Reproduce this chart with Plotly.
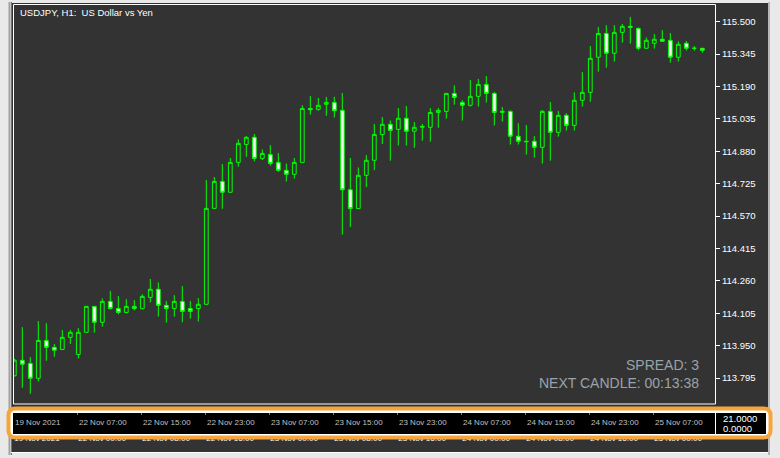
import plotly.graph_objects as go

W, H = 780, 458

# ---------------- data ----------------
bar_index = list(range(87))
open_ = [113.806, 113.880, 113.865, 113.794, 113.975, 113.942, 113.932, 113.990, 113.908, 114.014,
         114.138, 114.062, 114.162, 114.128, 114.109, 114.138, 114.127, 114.181, 114.220, 114.143,
         114.128, 114.162, 114.128, 114.128, 114.148, 114.607, 114.736, 114.684, 114.827, 114.913,
         114.947, 114.846, 114.865, 114.827, 114.789, 114.770, 114.827, 115.085, 115.081, 115.105,
         115.114, 115.076, 114.696, 114.606, 114.765, 114.837, 114.960, 115.009, 114.985, 115.038,
         114.976, 114.995, 114.995, 115.066, 115.071, 115.157, 115.114, 115.100, 115.143, 115.200,
         115.157, 115.066, 115.071, 114.952, 114.928, 114.928, 114.899, 115.071, 114.971, 115.052,
         115.004, 115.124, 115.162, 115.330, 115.444, 115.349, 115.449, 115.478, 115.468, 115.373,
         115.397, 115.416, 115.411, 115.330, 115.397, 115.373, 115.373]
high = [113.888, 114.039, 113.896, 114.068, 114.058, 113.958, 114.025, 114.025, 114.034, 114.138,
        114.138, 114.176, 114.212, 114.188, 114.173, 114.168, 114.196, 114.269, 114.253, 114.164,
        114.192, 114.235, 114.164, 114.178, 114.743, 114.757, 114.819, 114.848, 114.937, 114.953,
        114.963, 114.889, 114.910, 114.872, 114.822, 114.848, 115.101, 115.144, 115.135, 115.140,
        115.141, 115.159, 114.848, 114.803, 114.862, 115.011, 115.044, 115.028, 115.087, 115.097,
        115.020, 115.011, 115.087, 115.087, 115.157, 115.196, 115.125, 115.221, 115.226, 115.240,
        115.164, 115.092, 115.076, 115.015, 115.006, 114.953, 115.078, 115.116, 115.073, 115.062,
        115.162, 115.259, 115.384, 115.475, 115.484, 115.484, 115.489, 115.523, 115.473, 115.425,
        115.441, 115.460, 115.446, 115.406, 115.408, 115.384, 115.373]
low = [113.802, 113.749, 113.720, 113.778, 113.878, 113.897, 113.932, 113.958, 113.889, 114.014,
       114.012, 114.041, 114.124, 114.100, 114.105, 114.119, 114.124, 114.157, 114.089, 114.060,
       114.089, 114.062, 114.079, 114.065, 114.148, 114.607, 114.605, 114.684, 114.806, 114.854,
       114.832, 114.838, 114.811, 114.782, 114.735, 114.749, 114.827, 115.055, 115.074, 115.050,
       115.041, 114.481, 114.518, 114.606, 114.709, 114.790, 114.915, 114.835, 114.907, 114.907,
       114.897, 114.931, 114.926, 114.993, 115.036, 115.103, 115.027, 115.094, 115.094, 115.113,
       115.003, 115.022, 114.912, 114.912, 114.864, 114.850, 114.821, 114.835, 114.950, 114.979,
       114.979, 115.094, 115.117, 115.261, 115.280, 115.309, 115.400, 115.395, 115.363, 115.373,
       115.371, 115.406, 115.304, 115.309, 115.362, 115.362, 115.352]
close = [113.881, 113.861, 113.794, 113.975, 113.942, 113.928, 113.990, 114.014, 114.014, 114.138,
         114.062, 114.162, 114.128, 114.109, 114.138, 114.128, 114.186, 114.220, 114.143, 114.128,
         114.162, 114.114, 114.114, 114.148, 114.607, 114.736, 114.684, 114.827, 114.918, 114.947,
         114.846, 114.870, 114.822, 114.789, 114.770, 114.827, 115.085, 115.079, 115.100, 115.114,
         115.074, 114.696, 114.606, 114.765, 114.837, 114.961, 115.009, 114.980, 115.038, 114.976,
         114.995, 114.999, 115.066, 115.076, 115.157, 115.138, 115.100, 115.143, 115.200, 115.157,
         115.066, 115.071, 114.952, 114.928, 114.926, 114.899, 115.071, 114.971, 115.052, 115.004,
         115.124, 115.162, 115.325, 115.444, 115.349, 115.449, 115.478, 115.473, 115.373, 115.411,
         115.416, 115.406, 115.330, 115.392, 115.373, 115.373, 115.363]

price_ticks = [113.795, 113.950, 114.105, 114.260, 114.415, 114.570,
               114.725, 114.880, 115.035, 115.190, 115.345, 115.500]
time_tick_bars = [0, 8, 16, 24, 32, 40, 48, 56, 64, 72, 80]
time_labels = ["19 Nov 2021", "22 Nov 07:00", "22 Nov 15:00", "22 Nov 23:00",
               "23 Nov 07:00", "23 Nov 15:00", "23 Nov 23:00", "24 Nov 07:00",
               "24 Nov 15:00", "24 Nov 23:00", "25 Nov 07:00"]
base_labels = ["19 Nov 2021", "22 Nov 00:00", "22 Nov 08:00", "22 Nov 16:00",
               "23 Nov 00:00", "23 Nov 08:00", "23 Nov 16:00", "24 Nov 00:00",
               "24 Nov 08:00", "24 Nov 16:00", "25 Nov 00:00"]
title_text = "USDJPY, H1:  US Dollar vs Yen"
spread_text = "SPREAD: 3"
candle_text = "NEXT CANDLE: 00:13:38"
ind_max, ind_min = "21.0000", "0.0000"

# ---------------- helpers (pixel -> paper) ----------------
def X(px):
    return px / W

def Y(py):
    return 1 - py / H

BG = "#333333"
GREEN = "#00ff00"
FONT = "Liberation Sans, Arial, sans-serif"

fig = go.Figure()
fig.add_trace(go.Candlestick(
    x=bar_index, open=open_, high=high, low=low, close=close,
    increasing=dict(line=dict(color=GREEN, width=1), fillcolor=BG),
    decreasing=dict(line=dict(color=GREEN, width=1), fillcolor="#ffffff"),
    whiskerwidth=0, hoverinfo="skip", showlegend=False,
))
# invisible trace just to carry the secondary (clipped) time axis
fig.add_trace(go.Scatter(x=[0], y=[0], xaxis="x2", yaxis="y", mode="markers",
                         marker=dict(opacity=0), hoverinfo="skip", showlegend=False))

x_range = [-0.0375, 87.5875]
shapes = []
# dark chart window
shapes.append(dict(type="rect", xref="paper", yref="paper", x0=X(11), x1=X(768), y0=Y(453), y1=Y(3),
                   fillcolor=BG, line=dict(width=0), layer="below"))
# window frame lines (left)
shapes.append(dict(type="line", xref="paper", yref="paper", x0=X(9.5), x1=X(9.5), y0=Y(455), y1=Y(2),
                   line=dict(color="#a0a0a0", width=2), layer="below"))
shapes.append(dict(type="line", xref="paper", yref="paper", x0=X(11.5), x1=X(11.5), y0=Y(455), y1=Y(2),
                   line=dict(color="#707070", width=1), layer="below"))
# right window border
shapes.append(dict(type="line", xref="paper", yref="paper", x0=X(769), x1=X(769), y0=Y(455), y1=Y(2),
                   line=dict(color="#b8b8b8", width=2), layer="below"))
# plot frame
shapes.append(dict(type="rect", xref="paper", yref="paper", x0=X(13.5), x1=X(715.5), y0=Y(404), y1=Y(4.5),
                   line=dict(color="#ffffff", width=1), fillcolor="rgba(0,0,0,0)", layer="above"))
# bottom white line
shapes.append(dict(type="line", xref="paper", yref="paper", x0=X(11), x1=X(768), y0=Y(452.5), y1=Y(452.5),
                   line=dict(color="#ffffff", width=1), layer="above"))

# orange rounded highlight box (covers top half of the base time labels)
x0, x1, y0, y1, r = 8.5, 770.5, 408.5, 437.5, 7
path = (f"M {X(x0 + r)},{Y(y0)} L {X(x1 - r)},{Y(y0)} Q {X(x1)},{Y(y0)} {X(x1)},{Y(y0 + r)} "
        f"L {X(x1)},{Y(y1 - r)} Q {X(x1)},{Y(y1)} {X(x1 - r)},{Y(y1)} "
        f"L {X(x0 + r)},{Y(y1)} Q {X(x0)},{Y(y1)} {X(x0)},{Y(y1 - r)} "
        f"L {X(x0)},{Y(y0 + r)} Q {X(x0)},{Y(y0)} {X(x0 + r)},{Y(y0)} Z")
shapes.append(dict(type="path", xref="paper", yref="paper", path=path,
                   fillcolor="#ffffff", line=dict(color="#f6a53a", width=4), layer="above"))
# black strip
shapes.append(dict(type="rect", xref="paper", yref="paper", x0=X(13), x1=X(766), y0=Y(434), y1=Y(413),
                   fillcolor="#000000", line=dict(width=0), layer="above"))
shapes.append(dict(type="line", xref="paper", yref="paper", x0=X(715.5), x1=X(715.5), y0=Y(434), y1=Y(413),
                   line=dict(color="#ffffff", width=1), layer="above"))
# small tick marks on the strip
for b in time_tick_bars[1:]:
    shapes.append(dict(type="line", xref="x", yref="paper", x0=b - 0.1, x1=b - 0.1, y0=Y(415), y1=Y(413),
                       line=dict(color="#808080", width=1), layer="above"))

annotations = []
annotations.append(dict(text=title_text, xref="paper", yref="paper", x=X(18), y=Y(12.3),
                        xanchor="left", yanchor="middle", showarrow=False,
                        font=dict(family=FONT, size=9.5, color="#ffffff")))
annotations.append(dict(text=spread_text, xref="paper", yref="paper", x=X(700.5), y=Y(364.5),
                        xanchor="right", yanchor="middle", showarrow=False,
                        font=dict(family=FONT, size=14, color="#9aa3ab")))
annotations.append(dict(text=candle_text, xref="paper", yref="paper", x=X(700.5), y=Y(382.8),
                        xanchor="right", yanchor="middle", showarrow=False,
                        font=dict(family=FONT, size=14, color="#9aa3ab")))
for b, lab in zip(time_tick_bars, time_labels):
    annotations.append(dict(text=lab, xref="x", yref="paper", x=b, y=Y(422), xshift=-1,
                            xanchor="left", yanchor="middle", showarrow=False,
                            font=dict(family=FONT, size=8, color="#c0c0c0")))
annotations.append(dict(text=ind_max, xref="paper", yref="paper", x=X(720.5), y=Y(418.4),
                        xanchor="left", yanchor="middle", showarrow=False,
                        font=dict(family=FONT, size=9.5, color="#ffffff")))
annotations.append(dict(text=ind_min, xref="paper", yref="paper", x=X(720.5), y=Y(428.7),
                        xanchor="left", yanchor="middle", showarrow=False,
                        font=dict(family=FONT, size=9.5, color="#ffffff")))

fig.update_layout(
    width=W, height=H, margin=dict(l=0, r=0, t=0, b=0),
    paper_bgcolor="#e9e9e9", plot_bgcolor=BG,
    showlegend=False, hovermode=False, boxgap=0.33,
    xaxis=dict(domain=[X(14), X(715)], range=x_range, showgrid=False, zeroline=False,
               showticklabels=False, ticks="", showline=False, rangeslider=dict(visible=False),
               fixedrange=True),
    xaxis2=dict(overlaying="x", anchor="free", position=Y(431.5), side="bottom",
                range=x_range, tickmode="array", tickvals=time_tick_bars, ticktext=base_labels,
                ticklabelposition="outside right", ticks="", showgrid=False, zeroline=False,
                showline=False, tickfont=dict(family=FONT, size=8, color="#ffffff"),
                domain=[X(14), X(715)]),
    yaxis=dict(domain=[Y(404), Y(5)], range=[113.671, 115.580], side="right",
               tickmode="array", tickvals=price_ticks, ticktext=[f"{v:.3f}" for v in price_ticks],
               ticks="outside", ticklen=4, tickcolor="#ffffff", tickwidth=1,
               tickfont=dict(family=FONT, size=9.5, color="#ffffff"),
               showgrid=False, zeroline=False, showline=False, fixedrange=True),
    shapes=shapes, annotations=annotations,
)

fig.write_html("out.html", config={"displayModeBar": False},
               post_script="document.body.style.margin='0';document.body.style.overflow='hidden';")
